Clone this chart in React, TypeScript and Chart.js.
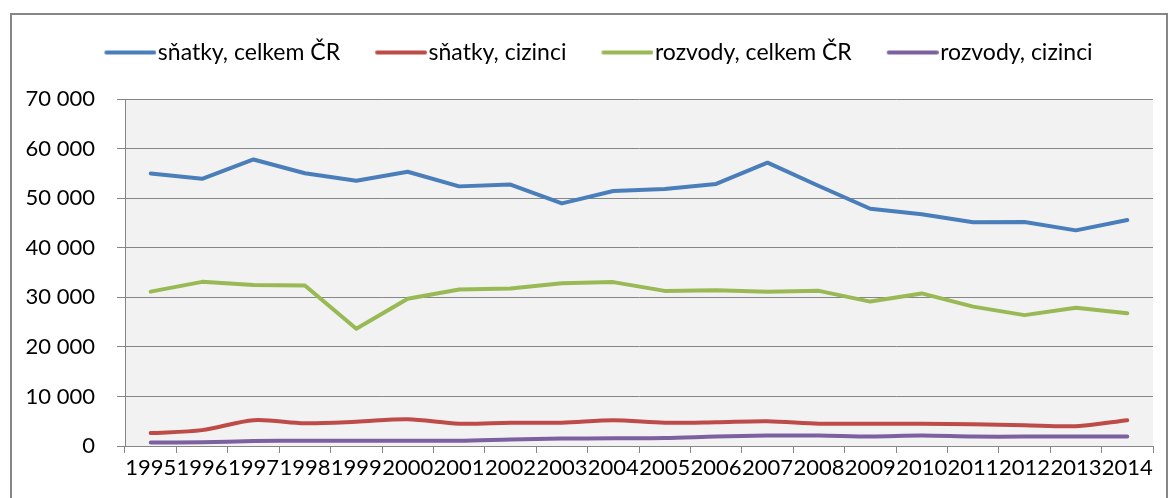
import React, { useEffect, useRef } from 'react';
import { Chart, registerables } from 'chart.js';

Chart.register(...registerables);

const years = ['1995', '1996', '1997', '1998', '1999', '2000', '2001', '2002', '2003', '2004', '2005', '2006', '2007', '2008', '2009', '2010', '2011', '2012', '2013', '2014'];
const seriesNames = ['sňatky, celkem ČR', 'sňatky, cizinci', 'rozvody, celkem ČR', 'rozvody, cizinci'];
const snatkyCelkem = [54956, 53896, 57804, 55027, 53523, 55321, 52374, 52732, 48943, 51447, 51829, 52860, 57157, 52457, 47862, 46746, 45137, 45206, 43499, 45575];
const snatkyCizinci = [2600, 3200, 5200, 4600, 4900, 5400, 4500, 4700, 4700, 5200, 4700, 4800, 5000, 4500, 4500, 4500, 4400, 4200, 4000, 5200];
const rozvodyCelkem = [31135, 33113, 32465, 32363, 23657, 29704, 31586, 31758, 32824, 33060, 31288, 31415, 31129, 31300, 29133, 30783, 28113, 26402, 27895, 26764];
const rozvodyCizinci = [700, 750, 1000, 1050, 1050, 1050, 1050, 1300, 1500, 1550, 1600, 1900, 2100, 2100, 1900, 2100, 1900, 1900, 1900, 1900];
const yMin = 0;
const yMax = 70000;
const yStep = 10000;

const colors = ['#4A7EBB', '#BE4B48', '#98B954', '#7D60A0'];
const FONT = 'Lato';

function legendLine(color: string) {
  const c = document.createElement('canvas');
  c.width = 72;
  c.height = 8;
  const g = c.getContext('2d')!;
  g.strokeStyle = color;
  g.lineWidth = 4;
  g.lineCap = 'round';
  g.beginPath();
  g.moveTo(22, 4);
  g.lineTo(70, 4);
  g.stroke();
  return c;
}

function fmt(v: number) {
  return String(v).replace(/\B(?=(\d{3})+(?!\d))/g, ' ');
}

export default function App() {
  const ref = useRef<HTMLCanvasElement>(null);
  useEffect(() => {
    if (!ref.current) return;
    const values = [snatkyCelkem, snatkyCizinci, rozvodyCelkem, rozvodyCizinci];
    const tensions = [0, 0.3, 0, 0.3];
    const chart = new Chart(ref.current, {
      type: 'line',
      data: {
        labels: years,
        datasets: values.map((v, i) => ({
          label: seriesNames[i],
          data: v,
          borderColor: colors[i],
          backgroundColor: colors[i],
          borderWidth: 4,
          pointRadius: 0,
          pointHoverRadius: 0,
          pointStyle: legendLine(colors[i]) as any,
          tension: tensions[i],
          fill: false,
          borderJoinStyle: 'round' as const,
          borderCapStyle: 'round' as const,
        })),
      },
      options: {
        responsive: false,
        animation: false,
        devicePixelRatio: 1,
        layout: { padding: { top: 16, right: 17, bottom: 0, left: 0 } },
        plugins: {
          legend: {
            display: true,
            position: 'top',
            labels: {
              usePointStyle: true,
              pointStyleWidth: 52,
              padding: 25,
              color: '#000',
              font: { family: FONT, size: 23, lineHeight: 1 },
            },
          },
          tooltip: { enabled: false },
        },
        scales: {
          x: {
            offset: true,
            grid: {
              offset: true,
              drawOnChartArea: false,
              drawTicks: true,
              tickLength: 7,
              color: '#868686',
              tickColor: '#868686',
            },
            border: { display: true, color: '#868686', width: 1 },
            ticks: {
              autoSkip: false,
              maxRotation: 0,
              minRotation: 0,
              padding: 4,
              color: '#000',
              font: { family: FONT, size: 22, lineHeight: 1 },
            },
            afterFit: (s: any) => { s.height = 52; },
          },
          y: {
            min: yMin,
            max: yMax,
            ticks: {
              stepSize: yStep,
              padding: 22,
              color: '#000',
              font: { family: FONT, size: 22, lineHeight: 1 },
              callback: (v: any) => fmt(Number(v)),
            },
            grid: {
              color: '#868686',
              tickColor: '#868686',
              tickLength: 8,
              drawTicks: true,
              lineWidth: 1,
            },
            border: { display: true, color: '#868686', width: 1 },
            afterFit: (s: any) => { s.width = 125; },
          },
        },
      },
      plugins: [
        {
          id: 'legendSpace',
          beforeUpdate(c: any) {
            const lg = c.legend;
            if (lg && !lg.__patched) {
              const orig = lg.fit.bind(lg);
              lg.fit = function () {
                orig();
                this.height += 25;
              };
              lg.__patched = true;
            }
          },
          afterLayout(c: any) {
            const lg = c.legend;
            if (lg) {
              lg.left += 17;
              lg.right += 17;
            }
          },
        },
        {
          id: 'plotBg',
          beforeDraw(c: any) {
            const { ctx, chartArea } = c;
            ctx.save();
            ctx.fillStyle = '#F2F2F2';
            ctx.fillRect(chartArea.left, chartArea.top, chartArea.right - chartArea.left, chartArea.bottom - chartArea.top);
            ctx.restore();
          },
        },
      ],
    });
    return () => chart.destroy();
  }, []);

  return (
    <div style={{ position: 'absolute', left: 0, top: 0, width: 1170, height: 498, overflow: 'hidden', background: '#fff' }}>
      <div style={{ position: 'absolute', left: 10, top: 13, width: 1158, height: 600, border: '2px solid #868686', boxSizing: 'border-box' }} />
      <canvas ref={ref} width={1170} height={498} style={{ position: 'absolute', left: 0, top: 0, width: 1170, height: 498, display: 'block' }} />
    </div>
  );
}
